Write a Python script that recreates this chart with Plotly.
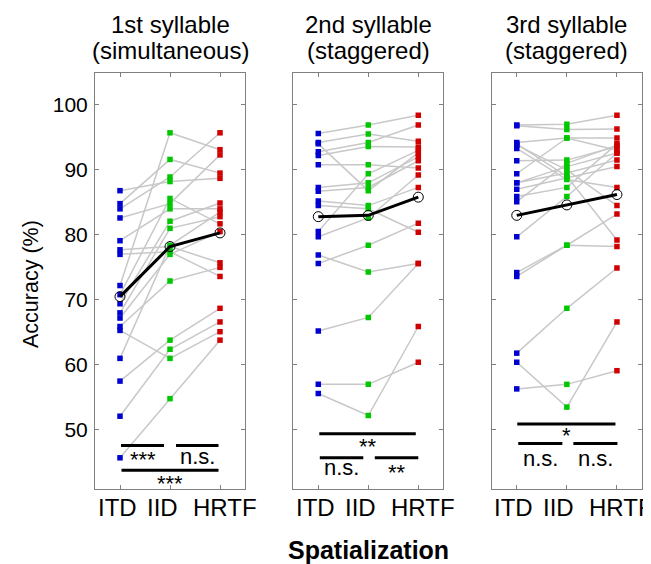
import plotly.graph_objects as go

# ---------------- data ----------------
conditions = ["ITD", "IID", "HRTF"]
panel_titles = [("1st syllable", "(simultaneous)"),
                ("2nd syllable", "(staggered)"),
                ("3rd syllable", "(staggered)")]

# panel 1 : per subject accuracy (%) for ITD, IID, HRTF
p1_itd = [86.8, 84.8, 84.0, 82.6, 79.1, 77.7, 77.0, 72.2, 70.8, 69.4, 68.0, 67.2, 65.9, 65.3, 61.0, 57.5, 52.1, 45.7]
p1_iid = [88.2, 91.6, 88.9, 84.8, 84.0, 78.2, 77.4, 95.7, 85.6, 82.1, 81.0, 77.0, 72.9, 61.0, 78.4, 63.8, 62.4, 54.8]
p1_hrtf = [88.7, 89.5, 95.7, 92.3, 84.0, 75.7, 73.6, 93.1, 81.7, 84.9, 82.8, 80.5, 75.0, 65.1, 83.5, 68.7, 66.6, 63.8]

# panel 2
p2_itd = [95.6, 94.2, 94.0, 92.8, 92.2, 90.8, 87.3, 86.7, 85.2, 84.5, 80.5, 79.7, 76.9, 75.6, 65.2, 57.0, 55.6]
p2_iid = [96.9, 95.5, 86.8, 94.2, 93.6, 90.8, 88.0, 87.3, 84.5, 84.0, 89.4, 82.6, 74.3, 78.4, 67.3, 57.0, 52.2]
p2_hrtf = [98.4, 94.4, 92.6, 96.9, 93.5, 90.3, 92.0, 91.4, 87.3, 80.4, 93.0, 89.2, 75.6, 81.8, 75.6, 60.4, 65.9]

# panel 3
p3_itd = [96.9, 96.8, 94.2, 94.0, 93.3, 93.8, 91.4, 89.4, 88.0, 88.0, 87.0, 85.9, 85.1, 79.7, 74.2, 73.6, 61.8, 60.4, 56.3]
p3_iid = [97.0, 96.2, 94.9, 89.0, 88.5, 90.0, 91.5, 94.9, 90.5, 89.5, 88.8, 87.3, 91.0, 85.9, 78.4, 78.4, 68.7, 53.5, 57.0]
p3_hrtf = [98.4, 96.3, 94.9, 79.2, 87.3, 84.5, 93.6, 93.0, 92.6, 91.5, 90.5, 94.0, 93.8, 92.6, 83.2, 78.2, 74.9, 66.6, 59.1]

# group means
p1_mean = [70.5, 78.2, 80.3]
p2_mean = [82.8, 83.0, 85.8]
p3_mean = [83.0, 84.6, 86.2]

# significance: (x0, x1, y, label, label_y)
p1_sig = [(1.02, 1.88, 47.6, "***", 45.4), (2.12, 2.97, 47.6, "n.s.", 45.9), (1.03, 2.97, 43.8, "***", 41.8)]
p2_sig = [(1.02, 2.95, 49.4, "**", 47.5), (1.03, 1.90, 45.7, "n.s.", 44.2), (2.13, 3.00, 45.7, "**", 43.4)]
p3_sig = [(1.01, 2.97, 50.9, "*", 49.1), (1.03, 1.91, 47.9, "n.s.", 45.6), (2.13, 3.01, 47.9, "n.s.", 45.6)]

yticks = [50, 60, 70, 80, 90, 100]

panels = [
    (p1_itd, p1_iid, p1_hrtf, p1_mean, p1_sig),
    (p2_itd, p2_iid, p2_hrtf, p2_mean, p2_sig),
    (p3_itd, p3_iid, p3_hrtf, p3_mean, p3_sig),
]

# ---------------- styling ----------------
FONT = "Liberation Sans, Arial, sans-serif"
COLORS = ["#0000d0", "#00c800", "#d00000"]
GRAY = "#c8c8c8"
AXCOL = "#808080"
OFF = 8                      # page body margin
W, H = 651 - OFF, 564 - OFF
ML, MR, MT, MB = 95 - OFF, 9, 73 - OFF, 75
PW = W - ML - MR
PH = H - MT - MB
px_left = [95, 293.3, 491.7]   # reference pixel positions
pw = 150
domains = [[(l - OFF - ML) / PW, (l - OFF + pw - ML) / PW] for l in px_left]
domains[-1][1] = 1.0
label_x = [0.94, 1.84, 3.09]    # horizontal placement of the category labels

def ppx(x):
    return (x - OFF - ML) / PW

def ppy(y):
    return (H - MB - (y - OFF)) / PH

fig = go.Figure()
layout = dict(
    width=W, height=H,
    margin=dict(l=ML, r=MR, t=MT, b=MB, pad=0),
    paper_bgcolor="white", plot_bgcolor="white",
    showlegend=False,
    font=dict(family=FONT, color="black"),
)
shapes = []
annotations = []
xcats = [1, 2, 3]

for i, (itd, iid, hrtf, mean, sig) in enumerate(panels):
    xa = "x" if i == 0 else f"x{i+1}"
    ya = "y" if i == 0 else f"y{i+1}"
    for a, b, c in zip(itd, iid, hrtf):
        fig.add_trace(go.Scatter(x=xcats, y=[a, b, c], mode="lines",
                                 line=dict(color=GRAY, width=1.5),
                                 xaxis=xa, yaxis=ya, hoverinfo="skip"))
    for k, vals in enumerate([itd, iid, hrtf]):
        fig.add_trace(go.Scatter(x=[xcats[k]] * len(vals), y=vals, mode="markers",
                                 marker=dict(symbol="square", size=5.5, color=COLORS[k],
                                             line=dict(width=0)),
                                 xaxis=xa, yaxis=ya))
    fig.add_trace(go.Scatter(x=xcats, y=mean, mode="lines+markers",
                             line=dict(color="black", width=3),
                             marker=dict(symbol="circle-open", size=10, color="black",
                                         line=dict(width=1)),
                             xaxis=xa, yaxis=ya))
    axkey = "xaxis" if i == 0 else f"xaxis{i+1}"
    aykey = "yaxis" if i == 0 else f"yaxis{i+1}"
    layout[axkey] = dict(
        domain=domains[i], anchor=ya, range=[0.5, 3.5],
        tickmode="array", tickvals=xcats, ticktext=conditions,
        showticklabels=False,
        ticks="inside", ticklen=4, tickcolor=AXCOL, tickwidth=1,
        showline=True, linecolor=AXCOL, linewidth=1, mirror="ticks",
        showgrid=False, zeroline=False,
    )
    layout[aykey] = dict(
        domain=[0, 1], anchor=xa, range=[40.9, 104.9],
        tickmode="array", tickvals=yticks,
        ticks="inside", ticklen=4, tickcolor=AXCOL, tickwidth=1,
        showline=True, linecolor=AXCOL, linewidth=1, mirror="ticks",
        showgrid=False, zeroline=False,
        showticklabels=(i == 0),
        tickfont=dict(size=21, family=FONT, color="black"),
        ticklabelstandoff=2,
    )
    for xl, lab in zip(label_x, conditions):
        annotations.append(dict(xref=xa, yref="paper", x=xl, y=ppy(507), text=lab,
                                showarrow=False, xanchor="center", yanchor="middle",
                                font=dict(size=24, family=FONT, color="black")))
    for (x0, x1, yv, lab, ly) in sig:
        shapes.append(dict(type="line", xref=xa, yref=ya, x0=x0, x1=x1, y0=yv, y1=yv,
                           line=dict(color="black", width=3)))
        annotations.append(dict(xref=xa, yref=ya, x=(x0 + x1) / 2, y=ly, text=lab,
                                showarrow=False, xanchor="center", yanchor="middle",
                                font=dict(size=22, family=FONT, color="black")))
    cx = ppx(px_left[i] + pw / 2)
    for line_txt, ypx in zip(panel_titles[i], [24, 50]):
        annotations.append(dict(xref="paper", yref="paper", x=cx, y=ppy(ypx), text=line_txt,
                                showarrow=False, xanchor="center", yanchor="middle",
                                font=dict(size=24, family=FONT, color="black")))

annotations.append(dict(xref="paper", yref="paper", x=ppx(31), y=ppy(284), text="Accuracy (%)",
                        textangle=-90, showarrow=False, xanchor="center", yanchor="middle",
                        font=dict(size=21.5, family=FONT, color="black")))
annotations.append(dict(xref="paper", yref="paper", x=ppx(368), y=ppy(550), text="<b>Spatialization</b>",
                        showarrow=False, xanchor="center", yanchor="middle",
                        font=dict(size=25, family=FONT, color="black")))

layout["shapes"] = shapes
layout["annotations"] = annotations
fig.update_layout(**layout)
fig.write_html("out.html")
